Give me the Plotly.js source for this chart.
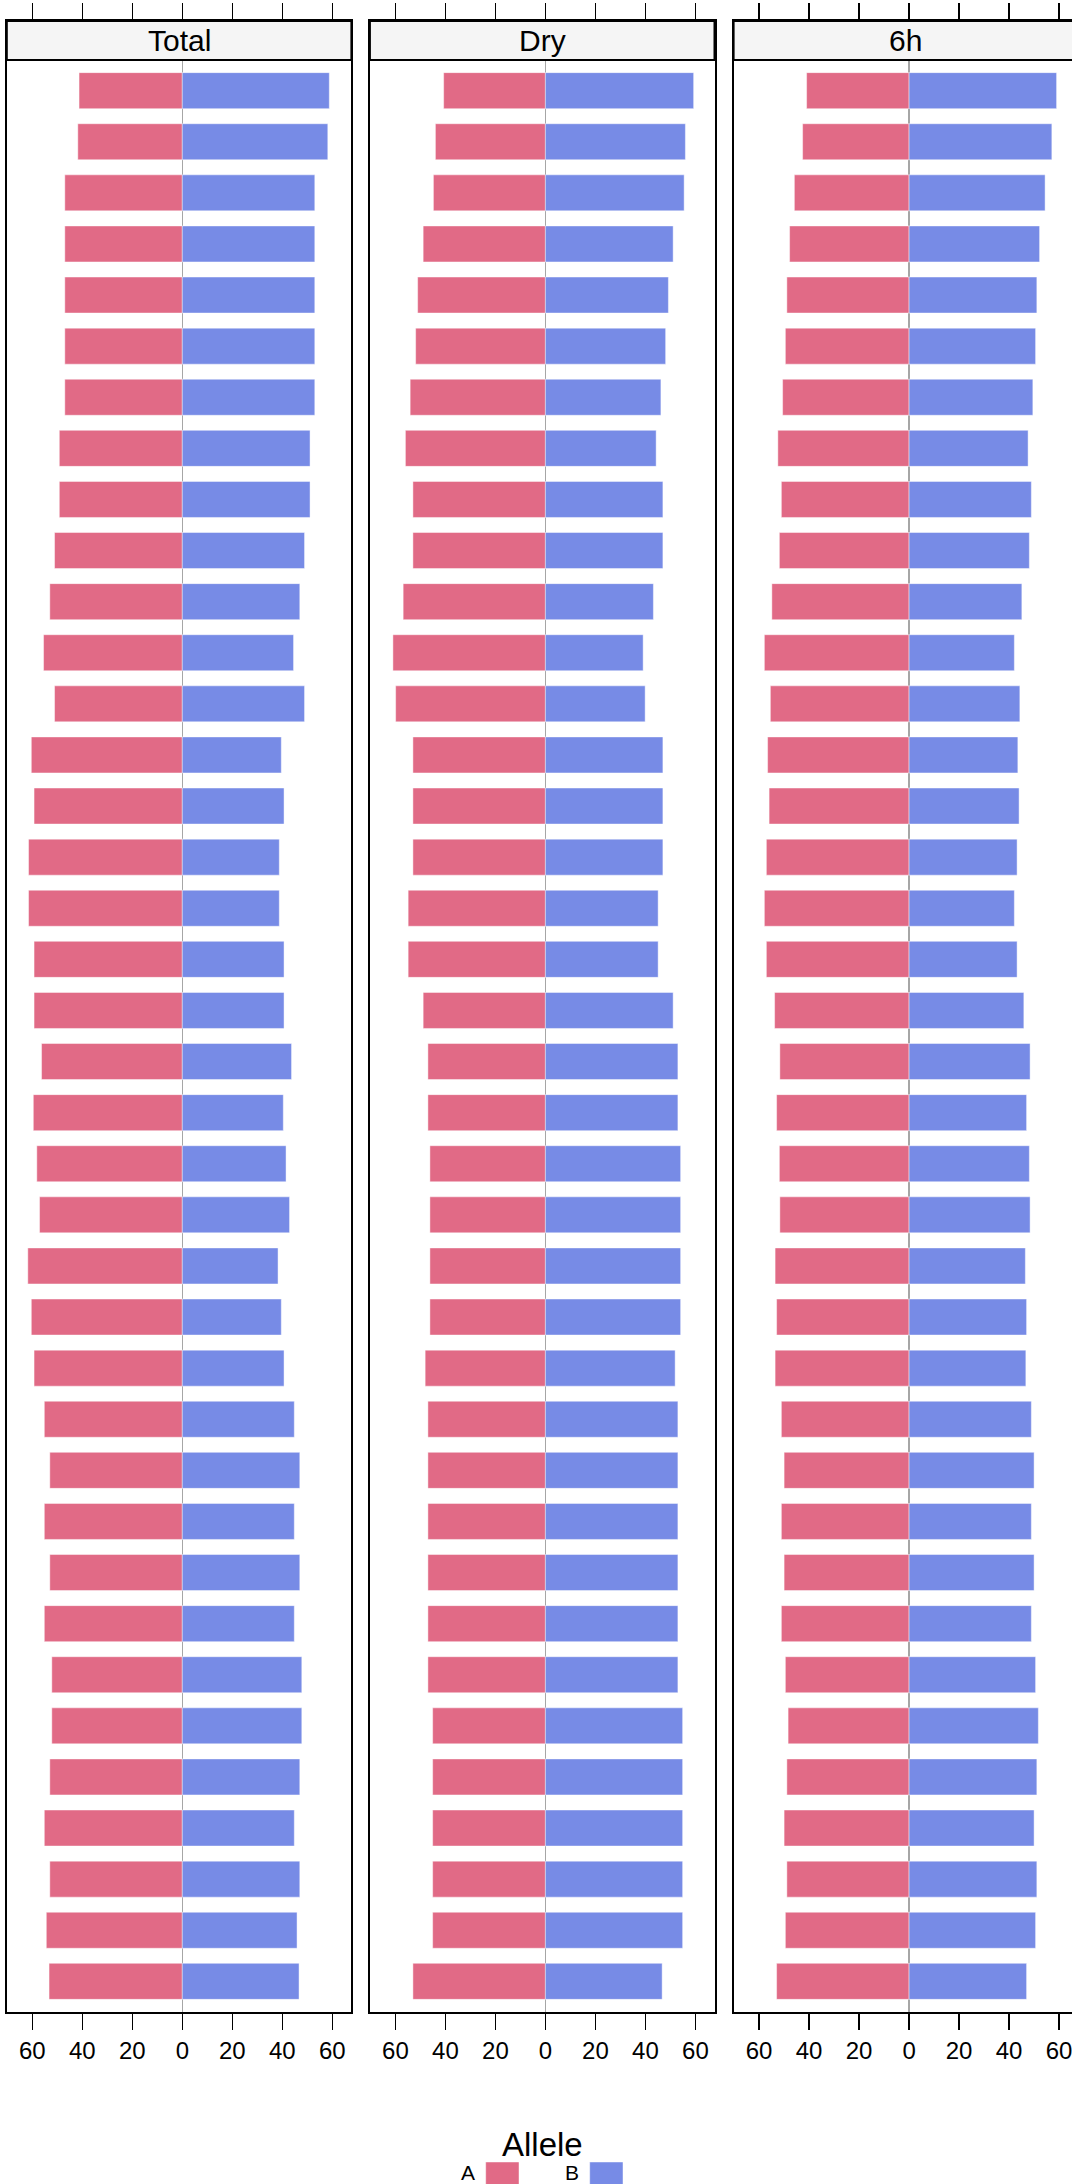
<!DOCTYPE html>
<html><head><meta charset="utf-8">
<script src="https://cdn.plot.ly/plotly-3.0.1.min.js"></script>
<style>html,body{margin:0;padding:0;overflow:hidden;background:#fff}#chart{width:1080px;height:2184px}</style>
</head><body><div id="chart"></div>
<script>
// ---- data ----
const markers = ["M01","M02","M03","M04","M05","M06","M07","M08","M09","M10",
  "M11","M12","M13","M14","M15","M16","M17","M18","M19","M20",
  "M21","M22","M23","M24","M25","M26","M27","M28","M29","M30",
  "M31","M32","M33","M34","M35","M36","M37","M38"];
const panels = ["Total", "Dry", "6h"];
const alleles = ["A", "B"];
const tickVals = [-60, -40, -20, 0, 20, 40, 60];
const tickLabels = ["60", "40", "20", "0", "20", "40", "60"];

const totalA = [41.3,41.8,47.0,47.0,47.0,47.0,47.0,49.2,49.2,51.1,53.0,55.5,51.1,60.4,59.3,61.5,61.5,59.3,59.3,56.3,59.6,58.2,57.1,61.8,60.4,59.3,55.2,53.0,55.2,53.0,55.2,52.2,52.2,53.0,55.2,53.0,54.4,53.3];
const totalB = [58.8,58.2,53.0,53.0,53.0,53.0,53.0,51.1,51.1,48.9,47.0,44.5,48.9,39.6,40.7,38.8,38.8,40.7,40.7,43.7,40.4,41.5,42.9,38.3,39.6,40.7,44.8,47.0,44.8,47.0,44.8,47.8,47.8,47.0,44.8,47.0,45.9,46.7];
const dryA = [40.7,44.0,44.8,48.9,51.1,51.9,54.1,56.0,53.0,53.0,56.9,61.0,59.9,53.0,53.0,53.0,54.9,54.9,48.9,47.0,47.0,46.2,46.2,46.2,46.2,48.1,47.0,47.0,47.0,47.0,47.0,47.0,45.1,45.1,45.1,45.1,45.1,53.0];
const dryB = [59.3,56.0,55.5,51.1,49.2,48.1,46.2,44.3,47.0,47.0,43.2,39.1,39.9,47.0,47.0,47.0,45.1,45.1,51.1,53.0,53.0,54.1,54.1,54.1,54.1,51.9,53.0,53.0,53.0,53.0,53.0,53.0,54.9,54.9,54.9,54.9,54.9,46.7];
const h6A = [41.0,42.6,45.9,47.8,48.9,49.5,50.6,52.5,51.1,51.9,54.9,57.9,55.5,56.6,56.0,57.1,57.9,57.1,53.8,51.7,53.0,51.9,51.7,53.6,53.0,53.6,51.1,50.0,51.1,50.0,51.1,49.5,48.4,48.9,50.0,48.9,49.5,53.0];
const h6B = [59.0,57.1,54.4,52.2,51.1,50.6,49.5,47.6,48.9,48.1,45.1,42.1,44.3,43.5,44.0,43.2,42.1,43.2,45.9,48.4,47.0,48.1,48.4,46.5,47.0,46.7,48.9,50.0,48.9,50.0,48.9,50.6,51.7,51.1,50.0,51.1,50.6,47.0];

const seriesA = [totalA, dryA, h6A];
const seriesB = [totalB, dryB, h6B];

// ---- geometry / style ----
const W = 1080, H = 2184;
const colA = "#E16A86", colB = "#778BE6";
const FONT = "Liberation Sans, Arial, Helvetica, sans-serif";
const panelPx = [[6.8, 351.4], [369.9, 714.5], [733.6, 1078.2]];
const plotTop = 21, plotBottom = 2012, stripBottom = 60;
const py = v => (H - v) / H;

const traces = [];
const layout = {
  width: W, height: H,
  margin: {l: 0, r: 0, t: 0, b: 0},
  paper_bgcolor: "#fff", plot_bgcolor: "#fff",
  showlegend: false,
  barmode: "relative", bargap: 0.295,
  font: {family: FONT, color: "#000"},
  shapes: [], annotations: []
};

panels.forEach((name, k) => {
  const sfx = k === 0 ? "" : String(k + 1);
  traces.push({
    type: "bar", orientation: "h", name: alleles[0],
    y: markers, x: seriesA[k].map(v => -v),
    xaxis: "x" + sfx, yaxis: "y" + sfx,
    marker: {color: colA, line: {color: "rgba(255,255,255,0.45)", width: 1}},
    hoverinfo: "skip"
  });
  traces.push({
    type: "bar", orientation: "h", name: alleles[1],
    y: markers, x: seriesB[k],
    xaxis: "x" + sfx, yaxis: "y" + sfx,
    marker: {color: colB, line: {color: "rgba(255,255,255,0.45)", width: 1}},
    hoverinfo: "skip"
  });
  const [x0, x1] = panelPx[k];
  layout["xaxis" + sfx] = {
    domain: [x0 / W, x1 / W],
    anchor: "y" + sfx,
    range: [-70.2, -70.2 + (x1 - x0) / 2.5],
    tickmode: "array", tickvals: tickVals, ticktext: tickLabels,
    ticks: "outside", ticklen: 16, tickwidth: 1.5, tickcolor: "#000",
    showline: true, linecolor: "#000", linewidth: 2, mirror: "ticks",
    showgrid: false,
    zeroline: true, zerolinecolor: "#a6a6a6", zerolinewidth: 1.5,
    tickfont: {size: 24, family: FONT, color: "#000"},
    fixedrange: true
  };
  layout["yaxis" + sfx] = {
    domain: [py(plotBottom), py(plotTop)],
    anchor: "x" + sfx,
    type: "category", categoryorder: "array", categoryarray: markers,
    range: [37.6, -1.363],
    showticklabels: false, ticks: "",
    showline: true, linecolor: "#000", linewidth: 2, mirror: true,
    showgrid: false, zeroline: false, fixedrange: true
  };
  layout.shapes.push({
    type: "rect", xref: "paper", yref: "paper",
    x0: x0 / W, x1: x1 / W, y0: py(stripBottom), y1: py(plotTop),
    fillcolor: "#f5f5f5", line: {color: "#000", width: 2}, layer: "above"
  });
  layout.annotations.push({
    xref: "paper", yref: "paper", x: (x0 + x1) / 2 / W, y: py((plotTop + stripBottom) / 2),
    xanchor: "center", yanchor: "middle", showarrow: false,
    text: name, font: {size: 30, family: FONT, color: "#000"}
  });
});

// legend (drawn manually to match the centred "Allele" key)
layout.annotations.push({
  xref: "paper", yref: "paper", x: 542 / W, y: py(2144),
  xanchor: "center", yanchor: "middle", showarrow: false,
  text: "Allele", font: {size: 33, family: FONT, color: "#000"}
});
const legendKeys = [{label: alleles[0], color: colA, tx: 468, bx: 485.7}, {label: alleles[1], color: colB, tx: 572, bx: 589.7}];
legendKeys.forEach(k => {
  layout.annotations.push({
    xref: "paper", yref: "paper", x: k.tx / W, y: py(2172),
    xanchor: "center", yanchor: "middle", showarrow: false,
    text: k.label, font: {size: 21, family: FONT, color: "#000"}
  });
  layout.shapes.push({
    type: "rect", xref: "paper", yref: "paper",
    x0: k.bx / W, x1: (k.bx + 33.3) / W, y0: py(2200), y1: py(2162),
    fillcolor: k.color, line: {color: "rgba(255,255,255,0.45)", width: 1}
  });
});

Plotly.newPlot("chart", traces, layout, {staticPlot: true, displayModeBar: false});
</script>
</body></html>
